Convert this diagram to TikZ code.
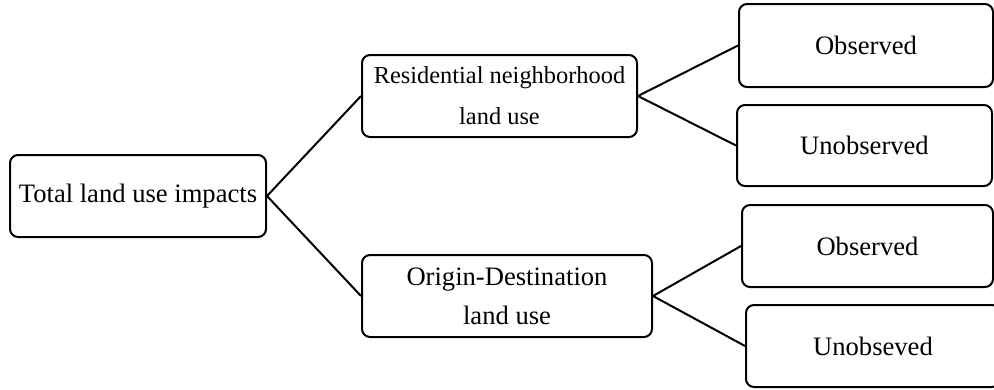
\documentclass[tikz,border=0pt]{standalone}
\usepackage{fontspec}
\setmainfont{Liberation Serif}
\begin{document}
\begin{tikzpicture}[x=1pt,y=-1pt,
  box/.style={draw, line width=2pt, rounded corners=8pt, inner sep=0pt,
    align=center, font=\fontsize{26.6}{39}\selectfont},
  link/.style={line width=2pt}]
\useasboundingbox (0,0) rectangle (994,389);
\clip (0,0) rectangle (994,389);

% root
\node[box, minimum width=256pt, minimum height=82pt] (total) at (138,196) {Total land use impacts};

% middle level
\node[box, minimum width=275pt, minimum height=82pt,
      font=\fontsize{24.4}{41}\selectfont] (res) at (499.5,96)
      {Residential neighborhood\\land use};
\node[box, minimum width=290pt, minimum height=82pt] (od) at (507,296)
      {Origin-Destination\\land use};

% leaves
\node[box, minimum width=254pt, minimum height=83pt] (obs1) at (866,45.5) {Observed};
\node[box, minimum width=255pt, minimum height=81pt] (unobs1) at (864.5,145.5) {Unobserved};
\node[box, minimum width=251pt, minimum height=82pt] (obs2) at (867.5,246) {Observed};
\node[box, minimum width=254pt, minimum height=82pt] (unobs2) at (873,346) {Unobseved};

% connectors
\draw[link] (total.east) -- (res.west);
\draw[link] (total.east) -- (od.west);
\draw[link] (res.east) -- (obs1.west);
\draw[link] (res.east) -- (unobs1.west);
\draw[link] (od.east) -- (obs2.west);
\draw[link] (od.east) -- (unobs2.west);
\end{tikzpicture}
\end{document}
